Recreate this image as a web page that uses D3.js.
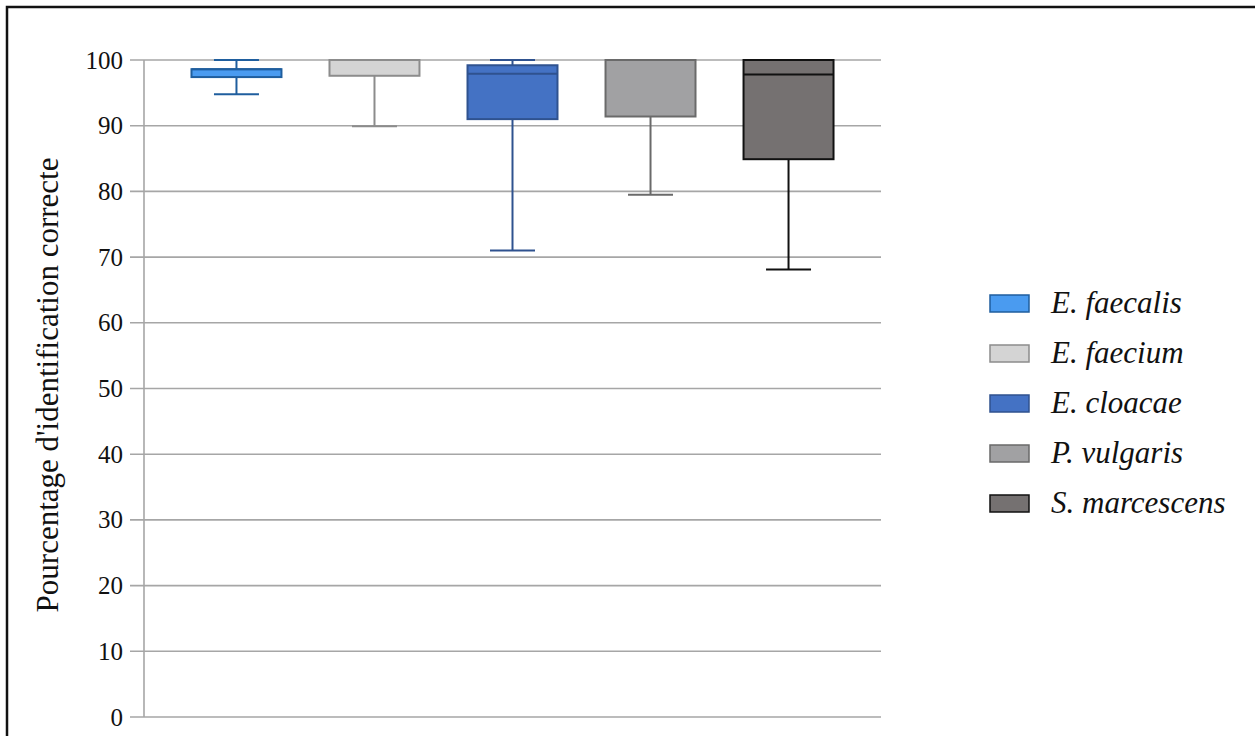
<!DOCTYPE html>
<html><head><meta charset="utf-8">
<script src="https://cdn.jsdelivr.net/npm/d3@7"></script>
<style>body{margin:0;background:#fff;}svg{display:block;} text{font-family:"Liberation Serif","Times New Roman","DejaVu Serif",serif;}</style>
</head><body>
<svg id="c" width="1255" height="736"></svg>
<script>
const categories = ["E. faecalis","E. faecium","E. cloacae","P. vulgaris","S. marcescens"];
const whiskerLow = [94.8, 89.9, 71.0, 79.5, 68.1];
const q1 = [97.4, 97.6, 91.0, 91.4, 84.9];
const median = [98.6, 100, 97.9, 100, 97.8];
const q3 = [98.6, 100, 99.2, 100, 100];
const whiskerHigh = [100, 100, 100, 100, 100];
const yTicks = [0,10,20,30,40,50,60,70,80,90,100];
const fills = ["#4a9bf0","#d4d4d4","#4472c4","#a1a1a3","#757171"];
const strokes = ["#1f5e9e","#8c8c8c","#2f528f","#6a6a6a","#111111"];
const yLabel = "Pourcentage d'identification correcte";

const svg = d3.select("#c");
const serif = '"Liberation Serif","Times New Roman","DejaVu Serif",serif';

// frame
svg.append("rect").attr("x",7).attr("y",7).attr("width",1260).attr("height",740)
  .attr("fill","none").attr("stroke","#111").attr("stroke-width",2.5);

const x = d3.scaleBand().domain(categories).range([144,881]).paddingInner(0.348).paddingOuter(0.344);
const y = d3.scaleLinear().domain([0,100]).range([717,60]);

// gridlines
svg.append("g").selectAll("line").data(yTicks).join("line")
  .attr("x1",130).attr("x2",881).attr("y1",d=>y(d)).attr("y2",d=>y(d))
  .attr("stroke","#a6a6a6").attr("stroke-width",1.6);

// y axis
const yAxis = d3.axisLeft(y).tickValues(yTicks).tickSize(0).tickPadding(21);
const ga = svg.append("g").attr("transform","translate(144,0)").call(yAxis);
ga.attr("font-family",null).attr("font-size",null);
ga.select(".domain").attr("stroke","#a6a6a6").attr("stroke-width",1.6).attr("d","M0,"+y(100)+"V"+y(0));
ga.selectAll("text").style("font-family",serif).style("font-size","25px").attr("fill","#111");

svg.append("text").attr("transform","translate(58,385) rotate(-90)")
  .attr("text-anchor","middle")
  .style("font-family",serif).style("font-size","31px").attr("fill","#111").text(yLabel);

// boxes
const idx = d3.range(categories.length);
const g = svg.append("g");
idx.forEach(i=>{
  const cx = x(categories[i]) + x.bandwidth()/2;
  const bw = x.bandwidth();
  const cap = bw/2;
  const gg = g.append("g").attr("stroke",strokes[i]).attr("stroke-width",2);
  gg.append("line").attr("x1",cx).attr("x2",cx).attr("y1",y(whiskerLow[i])).attr("y2",y(q1[i]));
  gg.append("line").attr("x1",cx).attr("x2",cx).attr("y1",y(q3[i])).attr("y2",y(whiskerHigh[i]));
  gg.append("line").attr("x1",cx-cap/2).attr("x2",cx+cap/2).attr("y1",y(whiskerLow[i])).attr("y2",y(whiskerLow[i]));
  gg.append("line").attr("x1",cx-cap/2).attr("x2",cx+cap/2).attr("y1",y(whiskerHigh[i])).attr("y2",y(whiskerHigh[i]));
  gg.append("rect").attr("x",cx-bw/2).attr("width",bw).attr("y",y(q3[i])).attr("height",y(q1[i])-y(q3[i]))
    .attr("fill",fills[i]);
  gg.append("line").attr("x1",cx-bw/2).attr("x2",cx+bw/2).attr("y1",y(median[i])).attr("y2",y(median[i]));
});

// legend
const lg = svg.append("g");
idx.forEach(i=>{
  const cy = 303 + i*50;
  lg.append("rect").attr("x",990).attr("y",cy-8).attr("width",39).attr("height",17)
    .attr("fill",fills[i]).attr("stroke",strokes[i]).attr("stroke-width",1.5);
  lg.append("text").attr("x",1051).attr("y",cy+10)
    .style("font-family",serif).style("font-style","italic").style("font-size","31px").attr("fill","#111")
    .text(categories[i]);
});
</script>
</body></html>
